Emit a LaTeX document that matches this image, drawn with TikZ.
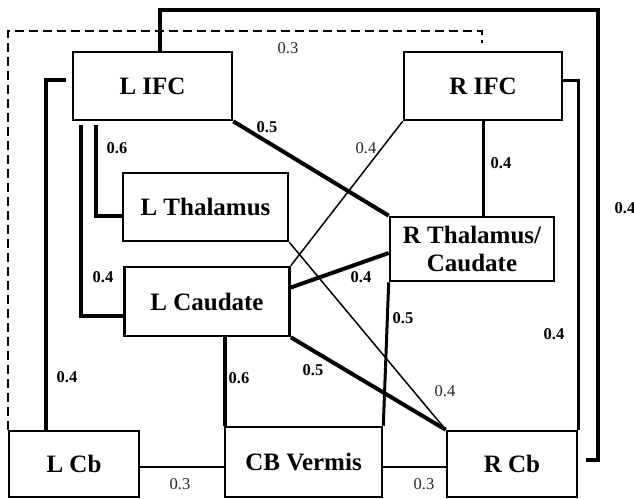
\documentclass[tikz,border=0pt]{standalone}
\usepackage{fontspec}
\setmainfont{Liberation Serif}
\usetikzlibrary{positioning, calc}
\newcommand{\boxfont}{\fontsize{25}{28}\selectfont\bfseries}
\tikzset{
  region/.style={
    draw,
    line width=2.6pt,
    fill=white,
    align=center,
    inner sep=0pt,
    font=\boxfont
  },
  thickc/.style={line width=4pt},
  midc/.style={line width=3pt},
  thinc/.style={line width=1.5pt},
  dashc/.style={line width=2pt, dash pattern=on 9pt off 5pt},
  wlbl/.style={font=\fontsize{16.5}{18}\selectfont\bfseries, inner sep=0pt},
  lbl/.style={font=\fontsize{16.5}{18}\selectfont, text=black!85, inner sep=0pt}
}

\begin{document}
\begin{tikzpicture}[x=1pt, y=-1pt]

  \useasboundingbox (0,0) rectangle (634,498);

  \node[region, minimum width=159pt, minimum height=68pt] (lifc) at (152.5,86) {L IFC};
  \node[region, minimum width=158pt, minimum height=68pt] (rifc) at (483,86) {R IFC};
  \node[region, minimum width=165pt, minimum height=68pt] (lthal) at (205.5,207) {L Thalamus};
  \node[region, minimum width=164pt, minimum height=64pt] (rthal) at (472,249) {R Thalamus/\\Caudate};
  \node[region, minimum width=165pt, minimum height=69pt] (lcaud) at (207,301.5) {L Caudate};
  \node[region, minimum width=130pt, minimum height=66pt] (lcb) at (74,464) {L Cb};
  \node[region, minimum width=157pt, minimum height=70pt] (vermis) at (303.5,462) {CB Vermis};
  \node[region, minimum width=130pt, minimum height=66pt] (rcb) at (512,464) {R Cb};

  % outer loops
  \coordinate (topright) at (598,10);
  \coordinate (dashtop) at (482,31);
  \coordinate (dashend) at (482,43);
  \draw[thickc] ([xshift=7pt]lifc.north) |- (topright) |- ($(rcb.east)+(8,-4)$);
  \draw[dashc] (lcb.north west) |- (dashtop) -- (dashend);

  % left side
  \draw[thickc] ($(lifc.west)+(-6,-6)$) -| ([xshift=-28pt]lcb.north);
  \draw[thickc] ([xshift=24pt,yshift=-4pt]lifc.south west) |- ([yshift=-9pt]lthal.west);
  \draw[thickc] ([xshift=9pt,yshift=-4pt]lifc.south west) |- ([yshift=-14pt]lcaud.west);

  % cross connections
  \draw[thickc] (lifc.south east) -- (rthal.north west);
  \draw[thinc] (rifc.south west) -- (lcaud.north east);
  \draw[midc] (rifc.south) -- (rifc.south |- rthal.north);
  \draw[midc] ($(rifc.east)+(0,-6)$) -| (rcb.north east);
  \draw[thinc] (lthal.south east) -- (rcb.north west);
  \draw[thickc] ($(lcaud.east)+(0,-14)$) -- ($(rthal.west)+(0,4)$);
  \draw[thickc] (lcaud.south east) -- (rcb.north west);
  \draw[thickc] ([xshift=18pt]lcaud.south) -- ([xshift=18pt]lcaud.south |- vermis.north);
  \draw[midc] (rthal.south west) -- (vermis.north east);

  % bottom row
  \draw[thinc] ($(lcb.east)+(0,3)$) -- ($(vermis.west)+(0,5)$);
  \draw[thinc] ($(vermis.east)+(0,5)$) -- ($(rcb.west)+(0,3)$);

  % weights
  \node[lbl] (w1) at (288,48) {0.3};
  \node[wlbl] (w2) at (625,208) {0.4};
  \node[wlbl] (w3) at (117,148) {0.6};
  \node[wlbl] (w4) at (267,127) {0.5};
  \node[lbl] (w5) at (366,148) {0.4};
  \node[wlbl] (w6) at (501,163) {0.4};
  \node[wlbl] (w7) at (67,377) {0.4};
  \node[wlbl] (w8) at (103,277) {0.4};
  \node[wlbl] (w9) at (361,277) {0.4};
  \node[wlbl] (w10) at (403,318) {0.5};
  \node[wlbl] (w11) at (554,334) {0.4};
  \node[wlbl] (w12) at (313,370) {0.5};
  \node[wlbl] (w13) at (239,378) {0.6};
  \node[lbl] (w14) at (445,391) {0.4};
  \node[lbl] (w15) at (180,484) {0.3};
  \node[lbl] (w16) at (424,484) {0.3};

\end{tikzpicture}
\end{document}
